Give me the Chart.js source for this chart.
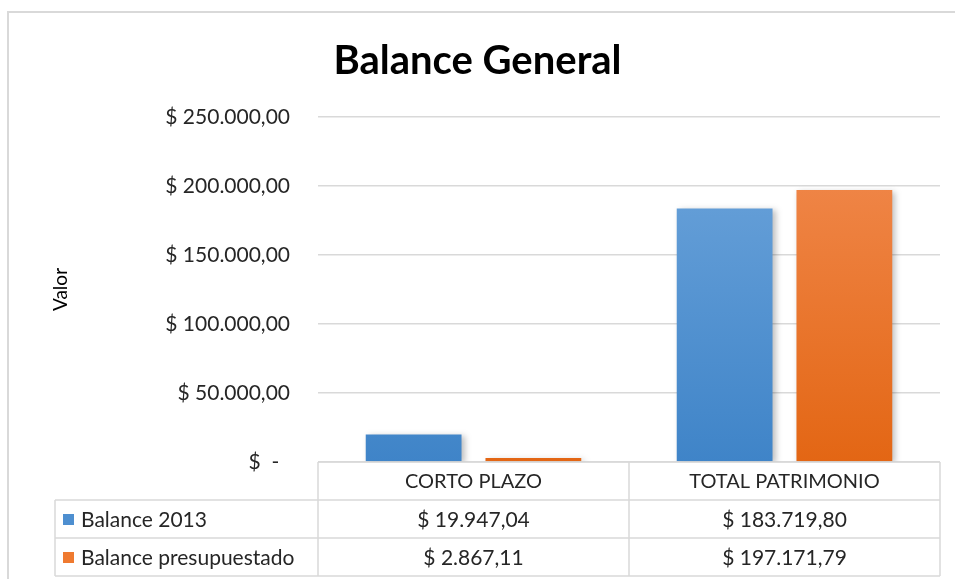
<!DOCTYPE html>
<html>
<head>
<meta charset="utf-8">
<script src="https://cdn.jsdelivr.net/npm/chart.js@4.4.1/dist/chart.umd.min.js"></script>
<style>
  html, body { margin: 0; padding: 0; background: #fff; }
  #wrap { position: relative; width: 955px; height: 579px; }
  #frame {
    position: absolute; left: 7px; top: 11px; width: 960px; height: 580px;
    border-left: 2px solid #d9d9d9; border-top: 2px solid #d9d9d9;
  }
  canvas { position: absolute; left: 0; top: 0; }
</style>
</head>
<body>
<div id="wrap">
  <div id="frame"></div>
  <canvas id="chart" width="955" height="579"></canvas>
</div>
<script>
// Data
const categories = ["CORTO PLAZO", "TOTAL PATRIMONIO"];
const balance2013 = [19947.04, 183719.80];
const balancePresupuestado = [2867.11, 197171.79];
const seriesNames = ["Balance 2013", "Balance presupuestado"];
const yTicks = [0, 50000, 100000, 150000, 200000, 250000];

const FONT = "Lato, 'Open Sans', sans-serif";
const TEXT = "#262626";

// 12345.6 -> "12.345,60"
function fmtNumber(v) {
  const parts = v.toFixed(2).split(".");
  const int = parts[0].replace(/\B(?=(\d{3})+(?!\d))/g, ".");
  return int + "," + parts[1];
}

function fmtMoney(v) {
  if (v === 0) return "$  -  ";
  return "$ " + fmtNumber(v);
}

// vertical gradient for bar fills
function barGradient(top, bottom) {
  return (ctx) => {
    const area = ctx.chart.chartArea;
    if (!area) return top;
    const g = ctx.chart.ctx.createLinearGradient(0, area.top, 0, area.bottom);
    g.addColorStop(0, top);
    g.addColorStop(1, bottom);
    return g;
  };
}

const swatches = ["#4e8fd0", "#ef7a30"];

// Data table below plot area
const dataTable = {
  id: "dataTable",
  afterDraw(chart) {
    const { ctx, chartArea } = chart;
    const x = chart.scales.x;
    const left = chartArea.left;
    const right = chartArea.right;
    const mid = (x.getPixelForValue(0) + x.getPixelForValue(1)) / 2;
    const cols = [left, mid, right];
    const tableLeft = 55;
    const rowH = 38;
    const top = chartArea.bottom;
    const rows = [top, top + rowH, top + rowH * 2, top + rowH * 3];

    ctx.save();
    ctx.strokeStyle = "#d9d9d9";
    ctx.lineWidth = 1.5;
    ctx.beginPath();
    ctx.moveTo(left, rows[0]); ctx.lineTo(right, rows[0]);
    for (let i = 1; i < rows.length; i++) {
      ctx.moveTo(tableLeft, rows[i]); ctx.lineTo(right, rows[i]);
    }
    ctx.moveTo(tableLeft, rows[1]); ctx.lineTo(tableLeft, rows[3]);
    cols.forEach(c => { ctx.moveTo(c, rows[0]); ctx.lineTo(c, rows[3]); });
    ctx.stroke();

    ctx.fillStyle = TEXT;
    ctx.font = "20px " + FONT;
    ctx.textAlign = "center";
    ctx.textBaseline = "middle";
    categories.forEach((c, i) => {
      ctx.fillText(c, (cols[i] + cols[i + 1]) / 2, rows[0] + rowH / 2 + 1);
    });

    ctx.font = "21px " + FONT;
    const series = [balance2013, balancePresupuestado];
    series.forEach((vals, r) => {
      const cy = rows[r + 1] + rowH / 2 + 1;
      vals.forEach((v, i) => {
        ctx.textAlign = "center";
        ctx.fillText("$ " + fmtNumber(v), (cols[i] + cols[i + 1]) / 2, cy);
      });
      ctx.fillStyle = swatches[r];
      ctx.fillRect(63, cy - 6, 11, 11);
      ctx.fillStyle = TEXT;
      ctx.textAlign = "left";
      ctx.fillText(seriesNames[r], 81, cy);
    });
    ctx.restore();
  }
};

// soft shadow to the right of bars
const barShadow = {
  id: "barShadow",
  beforeDatasetsDraw(chart) {
    const ctx = chart.ctx;
    ctx.save();
    ctx.shadowColor = "rgba(0,0,0,0.25)";
    ctx.shadowBlur = 6;
    ctx.shadowOffsetX = 3;
    ctx.shadowOffsetY = 2;
  },
  afterDatasetsDraw(chart) {
    chart.ctx.restore();
  }
};

new Chart(document.getElementById("chart"), {
  type: "bar",
  data: {
    labels: categories,
    datasets: [
      {
        label: seriesNames[0],
        data: balance2013,
        backgroundColor: barGradient("#6fa6dc", "#3f84c8"),
        barPercentage: 0.8,
        categoryPercentage: 0.77
      },
      {
        label: seriesNames[1],
        data: balancePresupuestado,
        backgroundColor: barGradient("#f28c52", "#e36614"),
        barPercentage: 0.8,
        categoryPercentage: 0.77
      }
    ]
  },
  options: {
    responsive: false,
    animation: false,
    layout: { padding: { left: 15, right: 15, top: 0, bottom: 117 } },
    plugins: {
      legend: { display: false },
      tooltip: { enabled: false },
      title: {
        display: true,
        text: "Balance General",
        color: "#000",
        font: { family: FONT, size: 40, weight: "bold" },
        padding: { top: 37, bottom: 32 },
        align: "center"
      }
    },
    scales: {
      x: {
        display: false
      },
      y: {
        min: 0,
        max: 250000,
        afterBuildTicks(scale) {
          scale.ticks = yTicks.map(v => ({ value: v }));
        },
        afterFit(scale) {
          scale.width = 303;
        },
        border: { display: false },
        grid: { color: "#d9d9d9", lineWidth: 1.5, drawTicks: false },
        ticks: {
          padding: 28,
          color: TEXT,
          font: { family: FONT, size: 21 },
          callback: (v) => fmtMoney(v)
        },
        title: {
          display: true,
          text: "Valor",
          color: "#000",
          font: { family: FONT, size: 19 },
          padding: { top: 34 }
        }
      }
    }
  },
  plugins: [barShadow, dataTable]
});
</script>
</body>
</html>
